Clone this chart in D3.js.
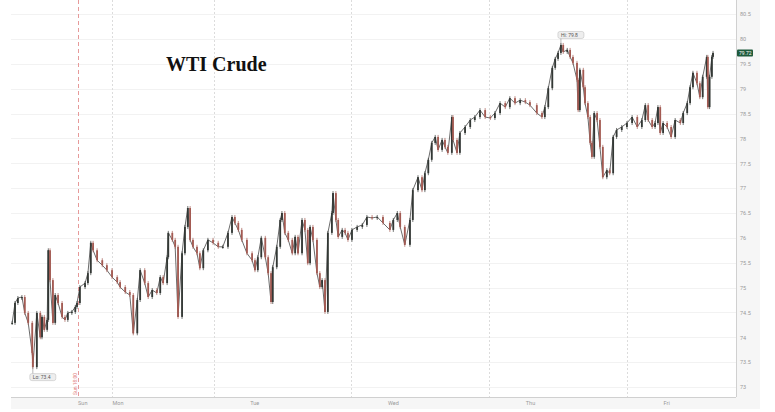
<!DOCTYPE html>
<html><head><meta charset="utf-8">
<script src="https://cdn.jsdelivr.net/npm/d3@7"></script>
<style>body{margin:0;background:#fff}svg{display:block}</style></head>
<body><svg id="c" width="775" height="412"></svg>
<script>
// trading hours relative to Monday 00:00 (weekend gap removed)
const hours = [-17.4,-16.9,-16.4,-15.7,-15.2,-14.6,-13.9,-13.8,-13.1,-12.5,-12.2,-11.8,-11.3,-11.1,-10.8,-10.3,-9.9,-9.4,-8.7,-8.2,-7.7,-7.0,-6.4,-6.1,-5.6,-4.7,-4.2,-3.7,-3.3,-2.6,-1.7,-0.9,
0,0.9,1.4,2.3,3.1,3.7,4.4,4.9,5.7,6.3,7.0,7.8,8.4,8.9,9.6,9.8,10.5,11.0,11.5,12.2,12.7,13.2,13.6,14.1,14.8,15.3,15.9,16.7,17.6,18.5,19.3,20.2,20.9,21.4,22.0,22.6,23.5,
24.4,24.9,25.4,26.0,26.7,27.2,27.7,28.0,28.7,29.3,29.6,30.1,30.7,31.4,31.9,32.4,33.1,33.6,34.1,34.5,35.0,35.7,36.2,36.6,37.1,37.6,38.3,38.5,39.0,39.4,40.1,40.6,41.1,41.8,42.7,43.6,44.4,45.3,46.2,47.2,
48.4,49.0,49.7,50.2,51.0,51.9,52.4,53.3,54.0,54.5,55.1,55.7,56.3,56.8,57.5,58.0,58.5,59.2,59.4,60.1,60.6,61.5,62.4,63.2,64.1,65.0,65.9,66.7,67.6,68.5,69.3,70.2,71.1,
72.0,72.8,74.0,74.9,75.4,76.0,76.7,77.2,77.7,78.2,78.6,79.3,79.8,80.3,81.0,81.2,81.5,82.1,82.4,82.9,83.3,83.6,84.0,84.5,85.0,85.5,86.2,86.7,87.3,87.9,88.8,89.7,90.6,91.5,92.3,92.9,93.4,94.1,94.6,95.1,95.5,
96.0,96.7,97.4,98.1,99.0,99.5,100.2,100.7,101.2,101.9,102.4,102.9,103.6,103.8,104.1,104.5,104.7];
const closes = [74.29,74.69,74.79,74.81,74.49,74.29,73.68,73.40,74.49,74.00,74.41,74.15,74.35,75.75,75.15,74.29,74.85,74.69,74.41,74.35,74.49,74.51,74.61,74.69,75.01,75.09,75.29,75.90,75.75,75.55,75.45,75.35,
75.21,75.11,75.01,74.91,74.85,74.08,74.75,75.35,75.09,74.81,74.95,74.89,75.21,75.09,75.61,76.10,75.96,75.82,74.41,75.69,76.22,76.60,75.96,75.82,75.69,75.39,75.75,75.96,75.90,75.82,75.82,76.10,76.42,76.30,76.16,75.96,75.69,
75.55,75.35,75.61,76.00,75.61,75.29,74.71,75.41,75.82,76.36,76.50,76.10,75.96,75.69,76.02,75.69,76.36,76.16,75.49,76.22,75.96,75.29,75.01,75.15,74.51,76.10,76.50,76.90,76.36,76.02,76.16,76.10,75.96,76.16,76.22,76.26,76.42,76.40,76.42,76.30,
76.16,76.36,76.50,76.22,75.86,76.36,76.96,77.22,76.96,77.30,77.57,77.91,78.03,77.77,77.97,77.83,77.71,78.43,77.97,77.71,78.11,78.23,78.37,78.43,78.57,78.43,78.41,78.51,78.71,78.63,78.81,78.71,78.77,
78.73,78.67,78.51,78.43,78.63,79.01,79.42,79.60,79.72,79.88,79.74,79.78,79.64,79.52,79.18,78.57,79.38,79.03,78.71,78.43,77.91,77.63,78.51,78.37,77.83,77.22,77.36,77.30,78.03,78.17,78.23,78.31,78.43,78.23,78.37,78.67,78.37,78.23,78.31,78.63,78.11,
78.31,78.23,78.03,78.37,78.31,78.51,78.71,79.03,79.32,79.11,78.83,79.24,79.64,78.63,79.24,79.64,79.72];

const dayLabels = ["Sun","Mon","Tue","Wed","Thu","Fri"];
const dayTickHours = [-6,0,24,48,72,96];
const sessionGridHours = [0,17.7,41.7,65.7,89.7];
const weekOpenHour = -6;
const weekOpenNote = "Sun 18:00";
const yTicks = [73,73.5,74,74.5,75,75.5,76,76.5,77,77.5,78,78.5,79,79.5,80,80.5];
const lastPriceLabel = "79.72";
const hiLabel = "Hi: 79.8";
const loLabel = "Lo: 73.4";
const title = "WTI Crude";

const svg = d3.select("#c");
const L = 11, R = 736, T = 0, B = 397;
const x = d3.scaleLinear().domain([-17.6, 108.7]).range([L, R]);
const y = d3.scaleLinear().domain([73, 80]).range([387, 39]);

// axis panels
svg.append("rect").attr("x", R).attr("y", 0).attr("width", 24).attr("height", 409).attr("fill", "#f6f6f6");
svg.append("rect").attr("x", L).attr("y", B).attr("width", R - L).attr("height", 12).attr("fill", "#f6f6f6");

// horizontal grid
svg.append("g").selectAll("line").data(yTicks).join("line")
  .attr("x1", L).attr("x2", R).attr("y1", d => Math.round(y(d)) + 0.5).attr("y2", d => Math.round(y(d)) + 0.5)
  .attr("stroke", "#f2f2f2").attr("stroke-width", 1);

// vertical session grid
svg.append("g").selectAll("line").data(sessionGridHours).join("line")
  .attr("x1", d => Math.round(x(d)) + 0.5).attr("x2", d => Math.round(x(d)) + 0.5)
  .attr("y1", T).attr("y2", B)
  .attr("stroke", "#dcdcdc").attr("stroke-dasharray", "2,2");

// week open red dashed line
const wx = Math.round(x(weekOpenHour)) + 0.5;
svg.append("line").attr("x1", wx).attr("x2", wx).attr("y1", T).attr("y2", B)
  .attr("stroke", "#e69a9a").attr("stroke-dasharray", "4,3");
svg.append("text").attr("transform", `translate(${wx - 2},${B - 2}) rotate(-90)`)
  .attr("font-family", "Roboto, sans-serif").attr("font-size", 5).attr("fill", "#e07a7a")
  .text(weekOpenNote);

// frame lines
svg.append("line").attr("x1", R + 0.5).attr("x2", R + 0.5).attr("y1", 0).attr("y2", B).attr("stroke", "#d0d0d0");
svg.append("line").attr("x1", L).attr("x2", R).attr("y1", B + 0.5).attr("y2", B + 0.5).attr("stroke", "#d0d0d0");

// title
svg.append("text").attr("x", 166).attr("y", 71)
  .attr("font-family", "'Liberation Serif', 'DejaVu Serif', serif").attr("font-weight", "bold")
  .attr("font-size", 20).attr("fill", "#111").text(title);

// price trace + candles
const candles = closes.map((c, i) => ({ t: hours[i], o: i ? closes[i - 1] : c, c }));
const line = d3.line().x(d => x(d.t)).y(d => y(d.c));
svg.append("path").datum(candles).attr("d", line).attr("fill", "none")
  .attr("stroke", "#5a5a5a").attr("stroke-width", 0.9).attr("stroke-linejoin", "round");
const g = svg.append("g");
const upC = "#333835", dnC = "#a35a52";
g.selectAll("line").data(candles).join("line")
  .attr("x1", d => x(d.t)).attr("x2", d => x(d.t))
  .attr("y1", d => y(Math.max(d.o, d.c)) - 2).attr("y2", d => y(Math.min(d.o, d.c)) + 2)
  .attr("stroke", d => d.c >= d.o ? upC : dnC).attr("stroke-width", 0.7);
g.selectAll("rect").data(candles).join("rect")
  .attr("x", d => x(d.t) - 0.9).attr("width", 1.8)
  .attr("y", d => y(Math.max(d.o, d.c)))
  .attr("height", d => Math.max(1.2, Math.abs(y(d.o) - y(d.c))))
  .attr("fill", d => d.c >= d.o ? upC : dnC);

// right axis
const ya = d3.axisRight(y).tickValues(yTicks).tickSize(0).tickPadding(4).tickFormat(d => String(d));
const yg = svg.append("g").attr("transform", `translate(${R},0)`).call(ya);
yg.select(".domain").remove();
yg.selectAll("text").attr("font-family", "Roboto, sans-serif").attr("font-size", 5.5).attr("fill", "#9a9a9a");

// bottom axis
const xa = d3.axisBottom(x).tickValues(dayTickHours).tickSize(0).tickPadding(4).tickFormat((d, i) => dayLabels[i]);
const xg = svg.append("g").attr("transform", `translate(0,${B})`).call(xa);
xg.select(".domain").remove();
xg.selectAll("text").attr("text-anchor", "start").attr("font-family", "Roboto, sans-serif")
  .attr("font-size", 5.5).attr("fill", "#9a9a9a");

// last price tag
const lastC = closes[closes.length - 1];
svg.append("rect").attr("x", R + 1).attr("y", y(lastC) - 3.5).attr("width", 16).attr("height", 7).attr("rx", 1).attr("fill", "#1e5a3c");
svg.append("text").attr("x", R + 3).attr("y", y(lastC) + 1.8).attr("font-family", "Roboto, sans-serif")
  .attr("font-size", 5).attr("fill", "#fff").text(lastPriceLabel);

// hi / lo tags
function tag(idx, label, above) {
  const px = x(hours[idx]), py = y(closes[idx]);
  const ty = above ? py - 10 : py + 10;
  svg.append("line").attr("x1", px).attr("x2", px).attr("y1", py).attr("y2", ty).attr("stroke", "#888").attr("stroke-width", 0.6);
  svg.append("rect").attr("x", px - 3).attr("y", ty - 3.5).attr("width", 26).attr("height", 7).attr("rx", 2)
    .attr("fill", "#eeeeee").attr("stroke", "#b8b8b8").attr("stroke-width", 0.5);
  svg.append("text").attr("x", px).attr("y", ty + 1.8).attr("font-family", "Roboto, sans-serif")
    .attr("font-size", 5).attr("fill", "#555").text(label);
}
const hiIdx = d3.maxIndex(closes), loIdx = d3.minIndex(closes);
tag(hiIdx, hiLabel, true);
tag(loIdx, loLabel, false);
</script></body></html>
